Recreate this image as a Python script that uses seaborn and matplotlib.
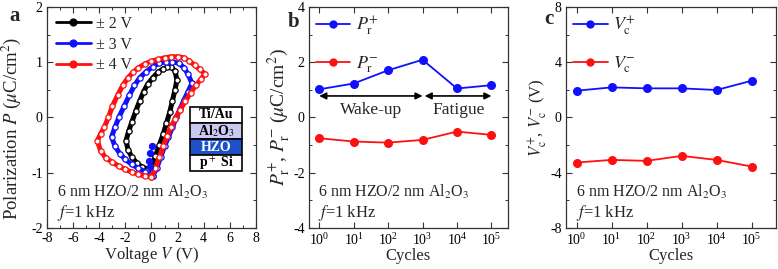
import numpy as np
import pandas as pd
import seaborn as sns
import matplotlib.pyplot as plt
from matplotlib.patches import Rectangle
from matplotlib.ticker import MultipleLocator

# panel a: P-V loops (V, P)
loop_2v_v = [0.0, 0.3, 0.6, 0.9, 1.15, 1.4, 1.6, 1.8, 1.95, 1.8, 1.5, 1.2, 0.9, 0.5, 0.1, -0.3,
             -0.6, -0.9, -1.2, -1.5, -1.75, -1.95, -1.8, -1.5, -1.1, -0.7, -0.3, 0.0]
loop_2v_p = [-0.88, -0.7, -0.5, -0.3, -0.1, 0.1, 0.3, 0.5, 0.68, 0.84, 0.92, 0.91, 0.88, 0.82, 0.72, 0.6,
             0.47, 0.3, 0.12, -0.08, -0.25, -0.42, -0.58, -0.72, -0.83, -0.9, -0.93, -0.88]
loop_3v_v = [0.1, 0.4, 0.7, 1.0, 1.3, 1.6, 1.9, 2.2, 2.5, 2.8, 3.1, 2.8, 2.5, 2.1, 1.6, 1.1, 0.6, 0.1,
             -0.4, -0.9, -1.3, -1.7, -2.1, -2.5, -2.8, -3.05, -2.8, -2.4, -2.0, -1.5, -1.0, -0.5, -0.1, 0.1]
loop_3v_p = [-1.05, -0.92, -0.72, -0.52, -0.35, -0.18, 0.0, 0.16, 0.32, 0.47, 0.62, 0.78, 0.9, 0.98, 1.01,
             1.01, 0.98, 0.92, 0.83, 0.72, 0.58, 0.4, 0.2, 0.0, -0.18, -0.35, -0.52, -0.66, -0.76, -0.85,
             -0.92, -0.98, -1.04, -1.05]
loop_4v_v = [0.0, 0.3, 0.6, 0.9, 1.2, 1.5, 1.8, 2.2, 2.6, 3.0, 3.4, 3.8, 4.1, 3.7, 3.3, 2.9, 2.5, 2.0,
             1.5, 1.0, 0.5, 0.0, -0.5, -1.0, -1.4, -1.8, -2.2, -2.6, -3.0, -3.3, -3.6, -3.9, -4.15,
             -3.9, -3.5, -3.0, -2.5, -2.0, -1.5, -1.0, -0.5, 0.0]
loop_4v_p = [-1.07, -0.92, -0.72, -0.52, -0.33, -0.17, -0.03, 0.14, 0.3, 0.45, 0.58, 0.7, 0.79, 0.87,
             0.95, 1.02, 1.08, 1.1, 1.1, 1.08, 1.05, 1.02, 0.97, 0.9, 0.82, 0.72, 0.58, 0.4, 0.2, 0.0,
             -0.17, -0.3, -0.42, -0.6, -0.73, -0.81, -0.88, -0.94, -0.99, -1.03, -1.06, -1.07]
start_v = [0.05, -0.1, -0.2, -0.1]
start_p = [-0.52, -0.65, -0.78, -0.9]

# panels b, c
cycles = [1, 10, 100, 1000, 10000, 100000]
pr_pos = [1.02, 1.23, 1.71, 2.09, 1.05, 1.17]
pr_neg = [-0.75, -0.87, -0.91, -0.81, -0.51, -0.63]
vc_pos = [1.94, 2.18, 2.11, 2.11, 1.99, 2.66]
vc_neg = [-3.26, -3.07, -3.14, -2.78, -3.07, -3.55]

sns.set_theme(style="ticks")
plt.rcParams['font.family'] = ['Liberation Serif', 'DejaVu Serif']
plt.rcParams['mathtext.fontset'] = 'stix'
plt.rcParams['axes.unicode_minus'] = False
plt.rcParams['xtick.direction'] = 'in'
plt.rcParams['ytick.direction'] = 'in'
plt.rcParams['xtick.top'] = True
plt.rcParams['ytick.right'] = True
plt.rcParams['xtick.minor.visible'] = True
plt.rcParams['ytick.minor.visible'] = True

fig = plt.figure(figsize=(7.78, 2.69), dpi=100)
axa = fig.add_axes([0.0604, 0.1524, 0.2686, 0.8216])
axb = fig.add_axes([0.397, 0.1524, 0.2558, 0.8216])
axc = fig.add_axes([0.7275, 0.1524, 0.27, 0.8216])

BLUE = '#1010ff'
RED = '#ff1010'

def style(ax):
    for s in ax.spines.values():
        s.set_linewidth(0.9)
        s.set_color('#333333')
    ax.tick_params(which='major', length=4, width=0.8, labelsize=10, colors='#333333', pad=3)
    ax.tick_params(which='minor', length=2.2, width=0.7, colors='#333333')
    for lab in ax.get_xticklabels() + ax.get_yticklabels():
        lab.set_color('black')

# ---- panel a
for vv, pp, c, lab in [(loop_2v_v, loop_2v_p, 'black', '± 2 V'),
                       (loop_3v_v, loop_3v_p, BLUE, '± 3 V'),
                       (loop_4v_v, loop_4v_p, RED, '± 4 V')]:
    sns.lineplot(x=vv, y=pp, sort=False, ax=axa, color=c, lw=3.6, marker='o', ms=3.8,
                 mfc='white', mec=c, mew=0.9, label=lab, estimator=None)
sns.lineplot(x=start_v, y=start_p, sort=False, ax=axa, color=BLUE, lw=0, marker='o', ms=4.5,
             mec=BLUE, estimator=None)
axa.set_xlim(-8, 8)
axa.set_ylim(-2, 2)
axa.xaxis.set_major_locator(MultipleLocator(2))
axa.xaxis.set_minor_locator(MultipleLocator(1))
axa.yaxis.set_major_locator(MultipleLocator(1))
axa.yaxis.set_minor_locator(MultipleLocator(0.5))
axa.set_xlabel('Voltage $V$ (V)', fontsize=12, labelpad=0)
axa.set_ylabel('Polarization $P$ ($\\mu$C/cm$^2$)', fontsize=13.5, labelpad=0)
leg = axa.legend(loc='upper left', frameon=False, fontsize=11.5, handlelength=2.2,
                 borderaxespad=0.15, labelspacing=0.3, handletextpad=0.3)
for h in leg.legend_handles:
    h.set_linewidth(2)
    h.set_markersize(5)
    h.set_markerfacecolor(h.get_color())

# layer stack inset
layers = [('Ti/Au', 'white', 'black'), ('Al$_2$O$_3$', '#c9c9f2', 'black'),
          ('HZO', '#1e50c8', 'white'), ('p$^+$ Si', 'white', 'black')]
x0, w = 0.684, 0.249
tops = [0.548, 0.475, 0.403, 0.330, 0.256]
for i, (name, fc, tc) in enumerate(layers):
    y0 = tops[i + 1]
    h = tops[i] - tops[i + 1]
    axa.add_patch(Rectangle((x0, y0), w, h, transform=axa.transAxes, facecolor=fc,
                            edgecolor='black', lw=1.2, zorder=5))
    axa.text(x0 + w / 2, y0 + h / 2, name, transform=axa.transAxes, ha='center', va='center',
             fontsize=10, fontweight='bold', color=tc, zorder=6)

# ---- panels b and c
def cycle_panel(ax, ypos, yneg, lpos, lneg, ylim, major, minor, xmax):
    df = pd.DataFrame({'cycles': cycles * 2, 'val': ypos + yneg,
                       'series': [lpos] * 6 + [lneg] * 6})
    sns.lineplot(data=df, x='cycles', y='val', hue='series', palette=[BLUE, RED], ax=ax,
                 marker='o', ms=6.5, mec='none', lw=1.3, estimator=None)
    ax.set_xscale('log')
    ax.set_xlim(0.5, xmax)
    ax.set_ylim(*ylim)
    ax.yaxis.set_major_locator(MultipleLocator(major))
    ax.yaxis.set_minor_locator(MultipleLocator(minor))
    ax.set_xticks(cycles)
    ax.set_xlabel('Cycles', fontsize=12, labelpad=0)
    lg = ax.legend(loc='upper left', frameon=False, fontsize=13, handlelength=1.9,
                   borderaxespad=0.0, labelspacing=0.9, handletextpad=0.3)
    for h in lg.legend_handles:
        h.set_markersize(6)

cycle_panel(axb, pr_pos, pr_neg, '$P_\\mathrm{r}^{+}$', '$P_\\mathrm{r}^{-}$', (-4, 4), 2, 1, 3e5)
axb.set_ylabel('$P_\\mathrm{r}^{+}$, $P_\\mathrm{r}^{-}$ ($\\mu$C/cm$^2$)', fontsize=14, labelpad=0)
axb.annotate('', xy=(1, 0.78), xytext=(1000, 0.78),
             arrowprops=dict(arrowstyle='<|-|>', color='black', lw=1.2, mutation_scale=10,
                             shrinkA=0, shrinkB=0))
axb.annotate('', xy=(1150, 0.78), xytext=(1e5, 0.78),
             arrowprops=dict(arrowstyle='<|-|>', color='black', lw=1.2, mutation_scale=10,
                             shrinkA=0, shrinkB=0))
axb.text(31.6, 0.27, 'Wake-up', ha='center', va='center', fontsize=12.5)
axb.text(1.1e4, 0.27, 'Fatigue', ha='center', va='center', fontsize=12.5)

cycle_panel(axc, vc_pos, vc_neg, '$V_\\mathrm{c}^{+}$', '$V_\\mathrm{c}^{-}$', (-8, 8), 4, 2, 5e5)
axc.set_ylabel('$V_\\mathrm{c}^{+}$, $V_\\mathrm{c}^{-}$ (V)', fontsize=12, labelpad=0)

for ax in (axa, axb, axc):
    style(ax)
    ax.text(0.048, 0.163, '6 nm HZO/2 nm Al$_2$O$_3$', transform=ax.transAxes, fontsize=11.5,
            va='center', ha='left')
    ax.text(0.048, 0.068, '$f$=1 kHz', transform=ax.transAxes, fontsize=12,
            va='center', ha='left')

axa.yaxis.set_label_coords(-0.115, 0.45)

fig.text(15 / 778, 1 - 16 / 269, 'a', fontsize=15, fontweight='bold', ha='center', va='center')
fig.text(294 / 778, 1 - 22 / 269, 'b', fontsize=15, fontweight='bold', ha='center', va='center')
fig.text(549 / 778, 1 - 19 / 269, 'c', fontsize=15, fontweight='bold', ha='center', va='center')

fig.savefig('out.png', dpi=100)
